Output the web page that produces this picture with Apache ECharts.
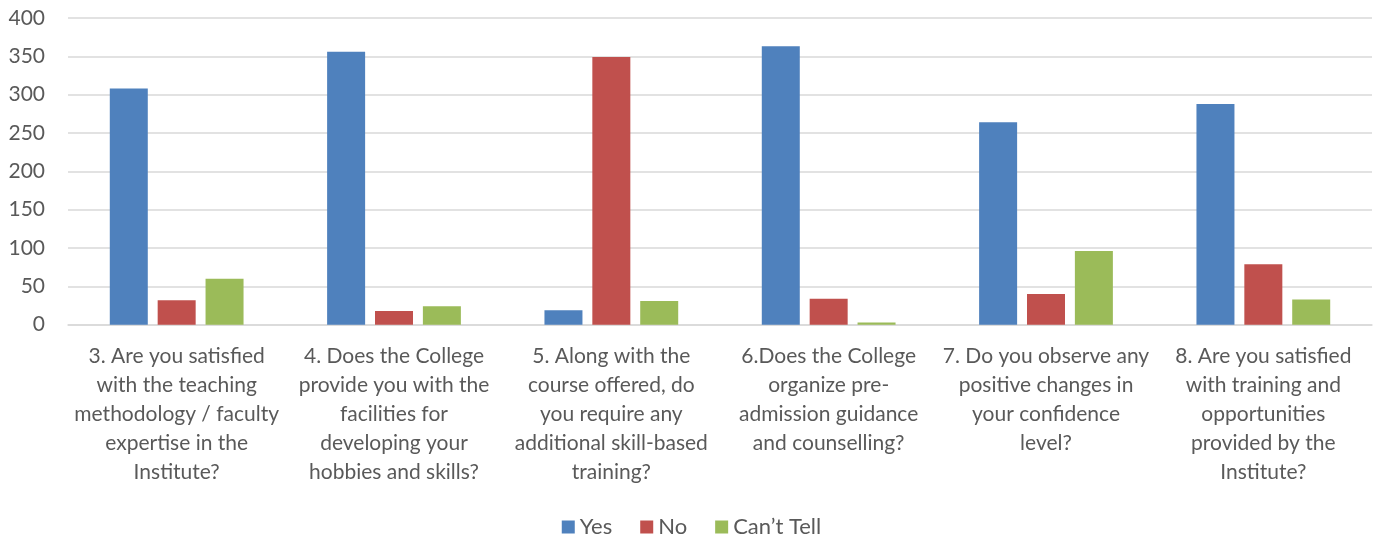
<!DOCTYPE html>
<html>
<head>
<meta charset="utf-8">
<script src="https://cdn.jsdelivr.net/npm/echarts@6/dist/echarts.min.js"></script>
<style>
html,body{margin:0;padding:0;background:#fff;}
#chart{width:1383px;height:543px;}
</style>
</head>
<body>
<div id="chart"></div>
<script>
const categories = [
  "3. Are you satisfied\nwith the teaching\nmethodology / faculty\nexpertise in the\nInstitute?",
  "4. Does the College\nprovide you with the\nfacilities for\ndeveloping your\nhobbies and skills?",
  "5. Along with the\ncourse offered, do\nyou require any\nadditional skill-based\ntraining?",
  "6.Does the College\norganize pre-\nadmission guidance\nand counselling?",
  "7. Do you observe any\npositive changes in\nyour confidence\nlevel?",
  "8. Are you satisfied\nwith training and\nopportunities\nprovided by the\nInstitute?"
];
const seriesNames = ["Yes", "No", "Can\u2019t Tell"];
const yesValues = [308, 356, 19, 363, 264, 288];
const noValues = [32, 18, 349, 34, 40, 79];
const cantTellValues = [60, 24, 31, 3, 96, 33];
const yTicks = [0, 50, 100, 150, 200, 250, 300, 350, 400];

const colors = ["#4F81BD", "#C0504D", "#9BBB59"];
const font = "Lato, 'Open Sans', sans-serif";

const chart = echarts.init(document.getElementById('chart'), null, {renderer: 'canvas'});
const mk = (name, data, i) => ({
  name: name,
  type: 'bar',
  data: data,
  barWidth: 38,
  barGap: '26%',
  itemStyle: {color: colors[i]},
  emphasis: {disabled: true}
});
chart.setOption({
  animation: false,
  color: colors,
  textStyle: {fontFamily: font},
  grid: {left: 68, right: 11, top: 18, bottom: 218.3, containLabel: false},
  legend: {
    bottom: 0,
    left: 'center',
    itemWidth: 13,
    itemHeight: 13,
    itemGap: 28,
    icon: 'rect',
    textStyle: {fontSize: 22, color: '#595959', fontFamily: font},
    data: seriesNames
  },
  xAxis: {
    type: 'category',
    data: categories,
    axisLine: {show: true, lineStyle: {color: '#D9D9D9', width: 1.5}},
    axisTick: {show: false},
    axisLabel: {
      interval: 0,
      fontSize: 21,
      lineHeight: 29,
      color: '#595959',
      margin: 17,
      fontFamily: font
    }
  },
  yAxis: {
    type: 'value',
    min: yTicks[0],
    max: yTicks[yTicks.length - 1],
    interval: yTicks[1] - yTicks[0],
    axisLine: {show: false},
    axisTick: {show: false},
    splitLine: {lineStyle: {color: '#D9D9D9', width: 1.5}},
    axisLabel: {fontSize: 21, color: '#595959', margin: 23, fontFamily: font}
  },
  series: [
    mk(seriesNames[0], yesValues, 0),
    mk(seriesNames[1], noValues, 1),
    mk(seriesNames[2], cantTellValues, 2)
  ]
});
</script>
</body>
</html>
